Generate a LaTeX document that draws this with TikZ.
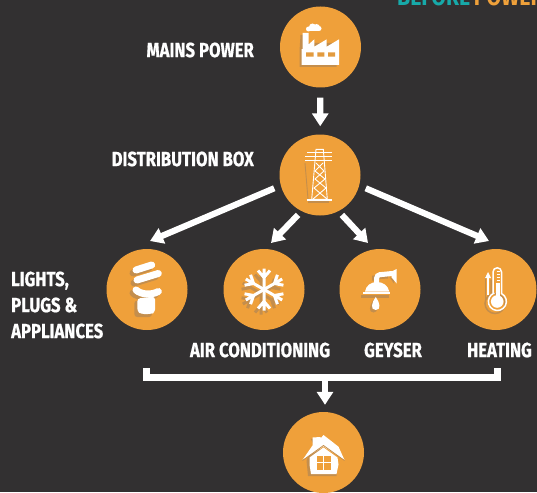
\documentclass[tikz,border=0pt]{standalone}
\usepackage{fontspec}
\setmainfont{Fira Sans}[BoldFeatures={FakeBold=0.8}]
\newfontfamily\titlefont{Fira Sans}
\usetikzlibrary{arrows.meta,positioning,calc}
\definecolor{panelgray}{HTML}{323031}
\definecolor{discorange}{HTML}{EFA03A}
\definecolor{shadeorange}{HTML}{C48E4C}
\definecolor{titleteal}{HTML}{17A9A9}

\begin{document}
\begin{tikzpicture}[
    x=1pt, y=-1pt,
    % Scheibe mit Symbol
    disc/.style={circle, fill=discorange, minimum size=81pt, inner sep=0pt},
    % Beschriftungen
    caption/.style={text=white, font=\bfseries\fontsize{20.5}{26}\selectfont, inner sep=0pt, xscale=0.815, align=left},
    flow/.style={draw=white, line width=6.2pt, -{Triangle[length=13pt, width=16pt]}},
    rail/.style={draw=white, line width=7pt},
    glyph/.style={fill=white, draw=none},
    glyphshade/.style={fill=shadeorange, draw=none},
    wire/.style={draw=white, line width=0.9pt}
  ]
  \useasboundingbox (0,0) rectangle (537,492);
  \fill[panelgray] (0,0) rectangle (537,492);

  % --- title, cut off by the upper edge ---
  \begin{scope}
    \clip (0,0) rectangle (537,492);
    \node[anchor=base west, inner sep=0pt, font=\titlefont\bfseries\fontsize{25}{25}\selectfont, xscale=0.85] (title) at (397,6)
      {\textcolor{titleteal}{BEFORE}\,\textcolor{discorange}{POWER}};
  \end{scope}

  % --- discs ---
  \node[disc] (mains) at (320.5,47) {};
  \node[disc] (box) at (320,175) {};
  \node[disc] (lights) at (147,289.5) {};
  \node[disc] (air) at (264,289.5) {};
  \node[disc] (geyser) at (380,289.5) {};
  \node[disc] (heating) at (496,289.5) {};
  \node[disc] (home) at (323.5,452.5) {};

  % --- captions ---
  \node[caption, anchor=east] (mainslabel) at (254,50) {MAINS POWER};
  \node[caption, anchor=east] (boxlabel) at (254,159) {DISTRIBUTION BOX};
  \node[caption, anchor=west] (lightslabel) at (11,305) {LIGHTS,\\PLUGS \&\\APPLIANCES};
  \node[caption] (airlabel) at (260,350) {AIR CONDITIONING};
  \node[caption] (geyserlabel) at (393,350) {GEYSER};
  \node[caption] (heatinglabel) at (499.5,350) {HEATING};

  % --- factory ---
  \begin{scope}[shift={(mains.center)}]
    \fill[glyphshade] (-21,4) -- (-20,-12) -- (-14,-12) -- (-14,-4) -- (16,-4) -- (16,20) -- (-21,20) -- cycle;
    \fill[glyph] (-18,2) -- (-18,-14) -- (-12,-14) -- (-12,-2.5) -- (-6.2,-7.7) -- (-6.2,-0.3) -- (6.2,-7.7) -- (6.2,-0.3) -- (18.5,-7.7) -- (18.5,18) -- (-19,18) -- (-19,2.3) -- cycle;
    \fill[glyph] (-12,-18) circle (2.5) (-8,-20) circle (3.5) (-4,-19.5) circle (3.5) (-1.5,-18.5) circle (2.5);
    \fill[glyph] (-13,-18.5) rectangle (-2,-15.5);
    \fill[discorange!70!shadeorange] (-14.5,5.3) rectangle (-7,9.7) (-3.2,5.3) rectangle (3.8,9.7) (7.5,5.3) rectangle (14.5,9.7);
  \end{scope}

  % --- pylon ---
  \begin{scope}[shift={(box.center)}]
    \draw[wire, draw=shadeorange] (-15,-12) -- (-12,24);
    \draw[draw=shadeorange, line width=1.5pt] (-12,27) -- (9,27);
    \draw[wire] (-4,-25.7) -- (3.3,-25.7) -- (7.3,24.3) -- (-8.3,24.3) -- cycle;
    \draw[wire] (-13,-23) -- (12,-23) (-15,-19) -- (12,-19) (-15,-14.3) -- (12,-14.3);
    \draw[wire] (-4,-12) -- (4,-4) -- (-5,4) -- (6,13) -- (-7,24) (3,-12) -- (-5,-4) -- (5,4) -- (-6,13) -- (7,24);
    \draw[draw=white, line width=1.3pt] (-13.3,25) -- (12.3,25);
  \end{scope}

  % --- bulb ---
  \begin{scope}[shift={(lights.center)}]
    \begin{scope}[shift={(-3,3)}]
      \draw[shadeorange, line width=7pt, line cap=round] (-11,-19.5) -- (4.7,-24.5) (-10,-9.5) -- (11.3,-16) (-11,0.5) .. controls (-6,5) and (4,6) .. (11.3,2);
      \fill[glyphshade, rounded corners=3pt] (-9.7,8) rectangle (8,24.5);
    \end{scope}
    \draw[white, line width=7pt, line cap=round] (-11,-19.5) -- (4.7,-24.5) (-10,-9.5) -- (11.3,-16) (-11,0.5) .. controls (-6,5) and (4,6) .. (11.3,2);
    \fill[glyph, rounded corners=3pt] (-9.7,9) -- (8,7) -- (8,23) -- (4,24.5) -- (-6,24.5) -- (-9.7,22) -- cycle;
  \end{scope}

  % --- snowflake ---
  \begin{scope}[shift={(air.center)}]
    \foreach \turn in {30,90,...,330} {
      \draw[shadeorange, line width=3pt, shift={(-3,4)}, rotate=\turn] (0,0) -- (21,0) (12,0) -- (19,-6) (12,0) -- (19,6);
    }
    \foreach \turn in {30,90,...,330} {
      \draw[white, line width=3pt, rotate=\turn] (0,0) -- (21,0) (12,0) -- (19,-6) (12,0) -- (19,6);
    }
  \end{scope}

  % --- shower head ---
  \begin{scope}[shift={(geyser.center)}]
    \fill[glyphshade] (-19,5.5) rectangle (9,8);
    \fill[glyphshade] (-6.5,10) .. controls (-10.5,16) and (-12,23) .. (-6.5,23) .. controls (-1,23) and (-2.5,16) .. (-6.5,10) -- cycle;
    \draw[shadeorange, line width=4pt] (-6,-9) -- (-6,-12) -- (8,-13);
    \fill[glyphshade] (9,-13) -- (14,-6) -- (14,-10) -- cycle;
    \fill[glyph] (-15,2) .. controls (-14,-4) and (-9,-7.5) .. (-3,-7.5) .. controls (3,-7.5) and (8,-4) .. (9.3,2) -- cycle;
    \fill[glyph] (-17,2) rectangle (10,4.5);
    \draw[white, line width=5pt, rounded corners=3pt] (-3.3,-6) -- (-3.3,-14.5) -- (12,-16);
    \fill[glyph] (11.7,-18) -- (16.7,-20.5) -- (16.7,-6) -- (11.7,-12) -- cycle;
    \fill[glyph] (-4.3,7.5) .. controls (-8.5,13) and (-10,20.5) .. (-4.3,20.5) .. controls (1.4,20.5) and (0,13) .. (-4.3,7.5) -- cycle;
  \end{scope}

  % --- thermometer ---
  \begin{scope}[shift={(heating.center)}]
    \draw[shadeorange, line width=1.5pt] (-10.5,-14) -- (-10.5,9);
    \draw[shadeorange, line width=1.5pt] (-5,-10) -- (-5,4) (-1,14) circle (10);
    \draw[white, line width=1.5pt] (-3,4) -- (-3,-17.5) arc[start angle=180, end angle=360, radius=4.25] -- (5.5,4) arc[start angle=-62.7, end angle=242.7, radius=9] -- cycle;
    \fill[glyph] (1.2,12) circle (6.3);
    \fill[glyph] (-0.5,-6.5) rectangle (3.5,10);
    \draw[white, line width=1pt] (0.5,-18) -- (4,-18) (0.5,-15) -- (4,-15) (0.5,-12) -- (4,-12) (0.5,-9) -- (4,-9);
    \draw[white, line width=1.8pt] (-8,-12) -- (-8,5);
    \fill[glyph] (-8,-17.5) -- (-5,-11.5) -- (-11,-11.5) -- cycle;
  \end{scope}

  % --- house ---
  \begin{scope}[shift={(home.center)}]
    \fill[glyphshade] (-17,8) -- (-10,-8) -- (-13,-14) -- (-5,-12) -- (-2,4) -- (14,10) -- (13,23.5) -- (-15.5,23.5) -- cycle;
    \fill[glyph] (-14,5) -- (0,-5) -- (14,5) -- (15,12) -- (13,21.5) -- (-12.5,21.5) -- (-14,12) -- cycle;
    \fill[glyph] (-21,7.5) -- (-11,-7) -- (-11,-15) -- (-3,-15.5) -- (-3,-14) -- (0,-17.5) -- (15,-5.8) -- (21,7.5) -- (0,-6) -- cycle;
    \draw[shadeorange, line width=0.8pt] (-21,8) -- (0,-7) -- (21,8);
    \fill[discorange] (-6.8,3.2) rectangle (7.2,17.5);
    \draw[white, line width=1pt] (0.2,3.2) -- (0.2,17.5) (-6.8,10.3) -- (7.2,10.3);
  \end{scope}

  % --- connectors ---
  \coordinate (lightstip) at (150,241);
  \coordinate (airtip) at (271,243);
  \coordinate (geysertip) at (368,243);
  \coordinate (heatingtip) at (489,241);
  \coordinate (railleft) at (146.5,368);
  \coordinate (railright) at (497.5,368);
  \coordinate (railmid) at (325,378);

  \draw[flow, shorten <=10pt, shorten >=8pt] (mains) -- (box);
  \draw[flow, shorten <=7pt] (box.195) -- (lightstip);
  \draw[flow, shorten <=5pt] (box.243) -- (airtip);
  \draw[flow, shorten <=5pt] (box.297) -- (geysertip);
  \draw[flow, shorten <=7pt] (box.345) -- (heatingtip);

  \draw[rail] (railleft) -- (146.5,377.5) -- (497.5,377.5) -- (railright);
  \draw[flow] (railmid) -- ($(home.north)+(1.5,-7)$);
\end{tikzpicture}
\end{document}
